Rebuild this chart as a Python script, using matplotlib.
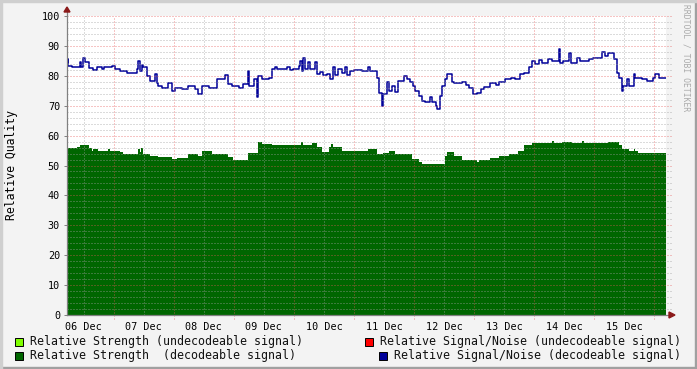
import matplotlib
matplotlib.use("Agg")
import matplotlib.pyplot as plt
from matplotlib.patches import Rectangle, Polygon

# time in days since 06 Dec 00:00
t_end = 10.20

sn_t = [0.22, 0.23, 0.24, 0.30, 0.38, 0.44, 0.46, 0.48, 0.49, 0.52, 0.58, 0.66, 0.72, 0.80, 0.83,
        0.97, 1.02, 1.11, 1.22, 1.38, 1.41, 1.44, 1.47, 1.49, 1.55, 1.61, 1.69, 1.72, 1.74, 1.80,
        1.91, 1.97, 2.02, 2.13, 2.24, 2.36, 2.41, 2.47, 2.58, 2.72, 2.86, 2.91, 2.97, 3.08, 3.16,
        3.23, 3.26, 3.33, 3.38, 3.40, 3.47, 3.58, 3.63, 3.69, 3.72, 3.88, 3.94, 3.99, 4.08, 4.11,
        4.13, 4.16, 4.19, 4.24, 4.27, 4.36, 4.38, 4.44, 4.49, 4.55, 4.61, 4.66, 4.69, 4.74, 4.80,
        4.86, 4.88, 4.94, 5.00, 5.13, 5.24, 5.27, 5.38, 5.41, 5.47, 5.49, 5.55, 5.58, 5.63, 5.69,
        5.74, 5.83, 5.88, 5.94, 5.99, 6.02, 6.08, 6.13, 6.19, 6.27, 6.30, 6.36, 6.38, 6.44, 6.47,
        6.52, 6.55, 6.63, 6.66, 6.80, 6.86, 6.91, 6.99, 7.05, 7.11, 7.16, 7.27, 7.36, 7.41, 7.52,
        7.61, 7.69, 7.77, 7.83, 7.91, 7.97, 8.02, 8.08, 8.13, 8.24, 8.30, 8.41, 8.44, 8.49, 8.58,
        8.61, 8.72, 8.77, 8.91, 8.99, 9.13, 9.19, 9.24, 9.33, 9.38, 9.41, 9.47, 9.49, 9.55, 9.58,
        9.66, 9.69, 9.80, 9.88, 9.99, 10.02, 10.08]
sn_v = [84.5, 85.5, 83.3, 82.8, 83.0, 84.5, 83.0, 84.8, 85.8, 84.7, 82.5, 82.0, 82.8, 82.2, 82.8,
        83.3, 82.2, 81.7, 81.0, 82.2, 84.8, 81.5, 83.5, 82.8, 80.0, 78.3, 80.5, 77.5, 76.7, 76.0,
        77.5, 75.0, 76.0, 75.5, 76.7, 75.5, 74.0, 76.7, 76.0, 78.9, 80.2, 77.2, 76.7, 76.0, 77.2,
        81.7, 76.7, 78.9, 72.8, 80.0, 78.9, 79.4, 82.2, 83.0, 82.2, 82.8, 82.0, 82.2, 83.3, 85.0,
        81.7, 85.8, 82.4, 84.7, 82.4, 84.7, 80.6, 81.3, 80.2, 80.6, 78.9, 82.8, 80.2, 82.2, 81.1,
        82.8, 80.2, 81.7, 82.0, 81.7, 82.8, 81.7, 79.4, 74.4, 70.0, 73.9, 78.0, 75.0, 76.7, 74.7,
        78.3, 80.0, 78.9, 77.8, 76.7, 75.0, 73.3, 71.7, 71.1, 72.8, 71.1, 70.0, 68.9, 73.3, 76.7,
        78.9, 80.6, 77.8, 77.6, 77.8, 76.9, 75.8, 73.9, 74.4, 75.5, 76.4, 77.6, 76.9, 78.0, 78.9,
        79.4, 78.9, 80.6, 81.1, 82.8, 85.0, 83.9, 85.3, 84.4, 85.6, 85.0, 88.9, 84.4, 85.0, 87.6,
        84.4, 86.1, 85.0, 85.6, 85.8, 87.8, 86.7, 87.6, 85.6, 81.1, 79.4, 75.0, 76.7, 78.9, 76.7,
        80.6, 79.4, 78.9, 78.3, 79.1, 80.6, 79.4]

st_t = [0.22, 0.24, 0.38, 0.44, 0.58, 0.63, 0.66, 0.74, 0.90, 0.93, 1.11, 1.16, 1.41, 1.44, 1.46,
        1.49, 1.61, 1.74, 1.97, 2.05, 2.24, 2.41, 2.47, 2.63, 2.91, 2.99, 3.24, 3.41, 3.47, 3.63,
        3.97, 4.12, 4.15, 4.30, 4.38, 4.47, 4.58, 4.62, 4.65, 4.80, 4.97, 5.24, 5.38, 5.49, 5.58,
        5.69, 5.97, 6.08, 6.13, 6.52, 6.55, 6.66, 6.80, 7.05, 7.08, 7.27, 7.41, 7.58, 7.74, 7.83,
        7.97, 8.30, 8.33, 8.47, 8.63, 8.80, 8.83, 9.24, 9.41, 9.47, 9.58, 9.66, 9.69, 9.74]
st_v = [56.7, 55.8, 56.1, 56.9, 55.8, 54.9, 55.6, 54.9, 55.6, 54.9, 54.4, 54.0, 55.6, 54.6, 55.9,
        53.9, 53.3, 52.8, 52.2, 52.4, 53.9, 53.3, 54.7, 53.9, 52.8, 52.0, 54.2, 57.8, 57.2, 56.7,
        56.9, 57.9, 56.9, 57.6, 56.1, 54.4, 56.1, 57.3, 56.1, 55.0, 54.7, 55.6, 53.9, 54.2, 54.7,
        53.9, 52.2, 51.3, 50.6, 53.3, 54.4, 53.3, 52.0, 51.1, 52.0, 52.4, 53.1, 53.9, 55.0, 56.7,
        57.6, 58.3, 57.6, 58.0, 57.6, 58.3, 57.6, 58.0, 56.7, 55.6, 54.7, 55.4, 54.7, 54.2]

day_labels = ["06 Dec", "07 Dec", "08 Dec", "09 Dec", "10 Dec",
              "11 Dec", "12 Dec", "13 Dec", "14 Dec", "15 Dec"]

legend_items = [("Relative Strength (undecodeable signal)", "#80ff00"),
                ("Relative Signal/Noise (undecodeable signal)", "#ff0000"),
                ("Relative Strength  (decodeable signal)", "#006600"),
                ("Relative Signal/Noise (decodeable signal)", "#000099")]

W, H = 697, 369
plt.rcParams['font.family'] = 'DejaVu Sans Mono'
fig = plt.figure(figsize=(W / 100, H / 100), dpi=100, facecolor="#f3f3f3")

# frame shading like rrdtool
fig.patches.append(Rectangle((0, 0), 1, 2 / H, transform=fig.transFigure, color="#a0a0a0"))
fig.patches.append(Rectangle((1 - 2 / W, 0), 2 / W, 1, transform=fig.transFigure, color="#a0a0a0"))
fig.patches.append(Rectangle((0, 1 - 2 / H), 1, 2 / H, transform=fig.transFigure, color="#cfcfcf"))
fig.patches.append(Rectangle((0, 0), 2 / W, 1, transform=fig.transFigure, color="#cfcfcf"))

x0, x1, y0, y1 = 67, 666, 16, 315
ax = fig.add_axes([x0 / W, (H - y1) / H, (x1 - x0) / W, (y1 - y0) / H])
ax.set_facecolor("white")
ax.set_xlim(sn_t[0], t_end)
ax.set_ylim(0, 100)
for s in ax.spines.values():
    s.set_visible(False)

# data
ax.fill_between(st_t + [t_end], st_v + [st_v[-1]], 0, step="post", color="#006600",
                linewidth=0, zorder=2)
ax.step(sn_t + [t_end], sn_v + [sn_v[-1]], where="post", color="#000099", lw=1.1, zorder=3)

# grid on top, as rrdtool does
dots = (0, (1.0, 2.0))
gray = dict(color="#a0a0a0", lw=0.72, ls=dots, alpha=0.75, zorder=4, clip_on=False)
red = dict(color="#e85a5a", lw=0.72, ls=dots, alpha=0.7, zorder=4, clip_on=False)
tr = ax.get_yaxis_transform()
trx = ax.get_xaxis_transform()
for d in range(0, 11):
    if sn_t[0] < d + 0.5 < t_end:
        ax.plot([d + 0.5, d + 0.5], [0, 1], transform=trx, **gray)
    if sn_t[0] < d < t_end:
        ax.plot([d, d], [-0.012, 1], transform=trx, **red)
for v in range(2, 101, 2):
    style = red if v % 10 == 0 else gray
    ax.plot([0, 1.008], [v, v], transform=tr, **style)

ax.set_yticks(range(0, 101, 10))
ax.set_yticklabels([str(v) for v in range(0, 101, 10)], fontsize=7.3)
ax.set_xticks([d + 0.5 for d in range(10)])
ax.set_xticklabels(day_labels, fontsize=7.3)
ax.tick_params(axis="y", length=2, width=0.7, color="#808080", pad=3)
ax.tick_params(axis="x", length=0, pad=5)
ax.set_ylabel("Relative Quality", fontsize=8.3, labelpad=17)

# axes with arrow heads
ax.plot([0, 0], [0, 1.022], transform=ax.transAxes, color="#808080", lw=0.9, clip_on=False, zorder=5)
ax.plot([0, 1.008], [0, 0], transform=ax.transAxes, color="#808080", lw=0.9, clip_on=False, zorder=5)
fig.patches.append(Polygon([[(x0 - 3) / W, (H - 12) / H], [(x0 + 3) / W, (H - 12) / H],
                            [x0 / W, (H - 7) / H]], transform=fig.transFigure, color="#8b1a1a"))
fig.patches.append(Polygon([[669 / W, (H - 312) / H], [669 / W, (H - 318) / H],
                            [675 / W, (H - 315) / H]], transform=fig.transFigure, color="#8b1a1a"))

# legend
pos = [(15, 341, 30), (365, 341, 380), (15, 355, 30), (379, 355, 394)]
for (label, col), (sx, sy, tx) in zip(legend_items, pos):
    fig.patches.append(Rectangle((sx / W, (H - sy - 5) / H), 8 / W, 8 / H, transform=fig.transFigure,
                                 facecolor=col, edgecolor="black", lw=0.7))
    fig.text(tx / W, (H - sy) / H, label, fontsize=8.35, va="center", ha="left", color="#111111")

fig.text(686 / W, (H - 4) / H, "RRDTOOL / TOBI OETIKER", fontsize=5.8, color="#aaaaaa",
         rotation=270, va="top", ha="center")

fig.savefig("out.png", dpi=100, facecolor=fig.get_facecolor())
